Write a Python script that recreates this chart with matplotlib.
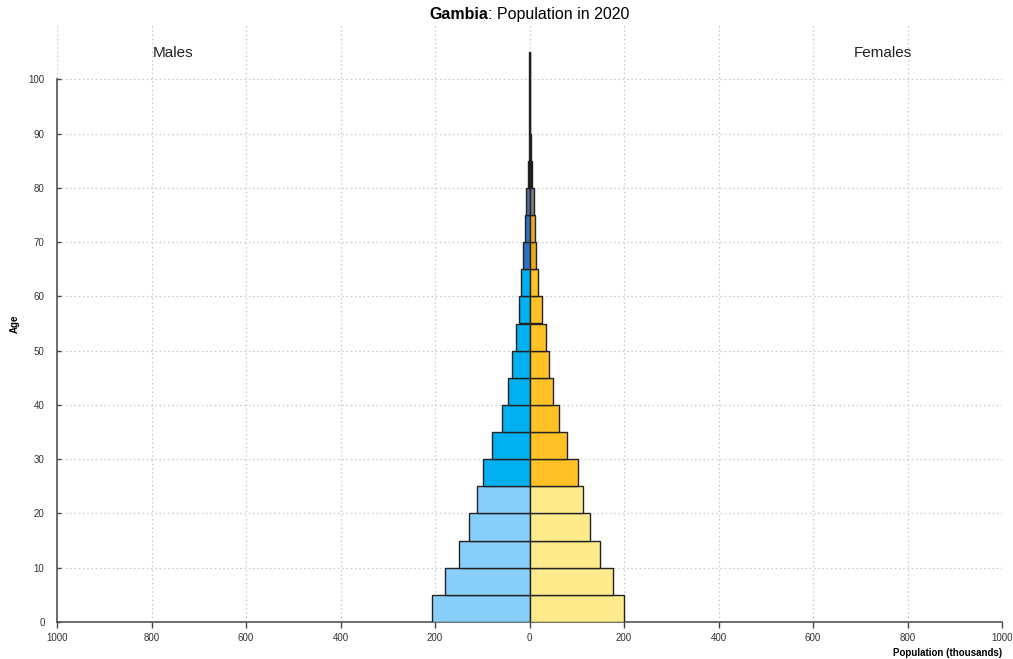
import matplotlib
matplotlib.use("Agg")
import matplotlib.pyplot as plt
import numpy as np

plt.rcParams['font.family'] = ['Liberation Sans', 'DejaVu Sans']

# Data (thousands), 5-year age groups starting at these ages
age_starts = [0, 5, 10, 15, 20, 25, 30, 35, 40, 45, 50, 55, 60, 65, 70, 75, 80, 85, 90, 95, 100]
males = [207, 179, 150, 129, 112, 98, 79, 58, 46, 37, 29, 23, 18, 14, 10, 7, 3, 1.5, 0.5, 0.2, 0.1]
females = [201, 176, 150, 129, 114, 102, 80, 63, 50, 42, 34, 26, 18.5, 13.5, 11, 8.5, 5.5, 2.5, 0.5, 0.2, 0.1]
x_ticks = [-1000, -800, -600, -400, -200, 0, 200, 400, 600, 800, 1000]
y_ticks = [0, 10, 20, 30, 40, 50, 60, 70, 80, 90, 100]

def male_color(a):
    if a < 25:
        return '#87CEFA'
    if a < 65:
        return '#00B0F0'
    if a < 75:
        return '#2F6FC6'
    if a < 80:
        return '#4D6E9C'
    return '#111111'

def female_color(a):
    if a < 25:
        return '#FFEB8C'
    if a < 65:
        return '#FFC125'
    if a < 75:
        return '#EBAA1E'
    if a < 80:
        return '#7F7F7F'
    return '#111111'

fig = plt.figure(figsize=(10.13, 6.59), dpi=100)
ax = fig.add_axes([57/1013, 1-622/659, (1002-57)/1013, (622-25)/659])

ax.barh(age_starts, [-m for m in males], height=5, align='edge',
        color=[male_color(a) for a in age_starts], edgecolor='#222222', linewidth=1.0, zorder=3)
ax.barh(age_starts, females, height=5, align='edge',
        color=[female_color(a) for a in age_starts], edgecolor='#222222', linewidth=1.0, zorder=3)

ax.set_xlim(-1000, 1000)
ax.set_ylim(0, 110)
ax.set_xticks(x_ticks)
ax.set_xticklabels([str(abs(v)) for v in x_ticks])
ax.set_yticks(y_ticks)
ax.tick_params(axis='x', direction='out', length=4, width=1, color='#444444', labelsize=7, labelcolor='#333333', pad=4)
ax.tick_params(axis='y', direction='in', length=3, width=1, color='#444444', labelsize=7, labelcolor='#333333', pad=9)

ax.grid(True, linestyle=(0, (1.2, 2.2)), color='#c8c8c8', linewidth=0.9, zorder=0)
ax.set_axisbelow(True)
for s in ['top', 'right']:
    ax.spines[s].set_visible(False)
ax.spines['left'].set_bounds(0, 100)
ax.spines['left'].set_color('#555555')
ax.spines['bottom'].set_color('#555555')
ax.spines['left'].set_linewidth(1.2)
ax.spines['bottom'].set_linewidth(1.2)

ax.set_ylabel('Age', fontsize=7, fontweight='bold', labelpad=6)
fig.text(1002/1013, 1-653/659, 'Population (thousands)', fontsize=7, fontweight='bold',
         ha='right', va='center')

fig.text(173/1013, 1-53/659, 'Males', fontsize=11, ha='center', va='center', color='#222222')
fig.text(883/1013, 1-53/659, 'Females', fontsize=11, ha='center', va='center', color='#222222')

fig.text(488/1013, 1-19/659, 'Gambia', fontsize=11.5, fontweight='bold', ha='right', va='baseline')
fig.text(488/1013, 1-19/659, ': Population in 2020', fontsize=11.5, ha='left', va='baseline')

fig.savefig('out.png', dpi=100)
